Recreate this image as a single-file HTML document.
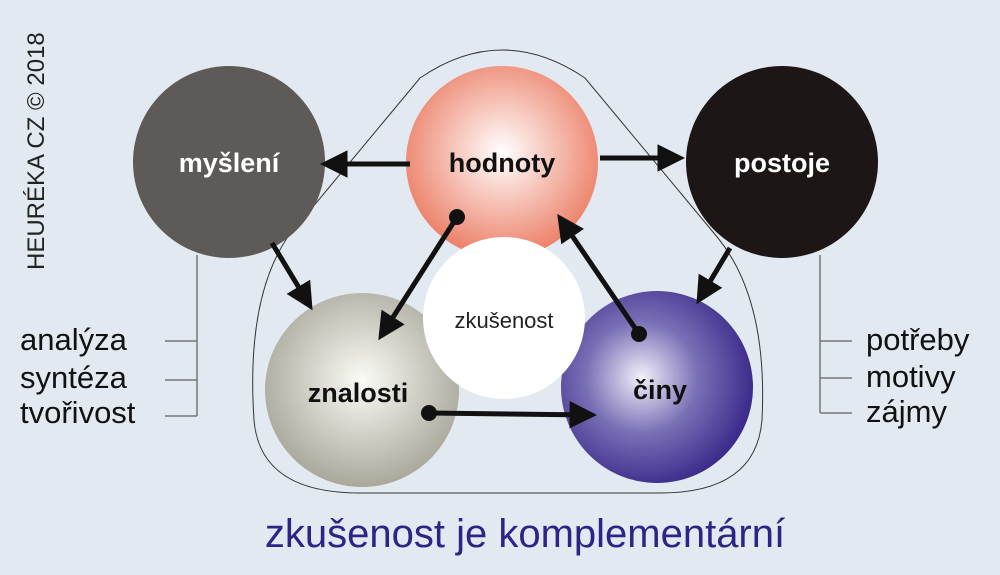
<!DOCTYPE html>
<html><head><meta charset="utf-8"><style>
body{margin:0;width:1000px;height:575px;overflow:hidden;background:#e3e9f0;}
svg{display:block;font-family:"Liberation Sans",Arial,sans-serif}
</style></head><body>
<svg width="1000" height="575" viewBox="0 0 1000 575">
<defs>
<radialGradient id="gr" cx="0.5" cy="0.45" r="0.55"><stop offset="0" stop-color="#fff"/><stop offset="1" stop-color="#ec8068"/></radialGradient>
<radialGradient id="gz" cx="0.5" cy="0.45" r="0.55"><stop offset="0" stop-color="#fbfbf6"/><stop offset="1" stop-color="#a9a89b"/></radialGradient>
<radialGradient id="gc" cx="0.42" cy="0.45" r="0.58"><stop offset="0" stop-color="#f2f0fa"/><stop offset="0.5" stop-color="#7a70b6"/><stop offset="1" stop-color="#3d2c8c"/></radialGradient>
<marker id="ah" markerWidth="5.5" markerHeight="5.5" refX="4.5" refY="2.75" orient="auto" markerUnits="strokeWidth"><path d="M0,0 L5.5,2.75 L0,5.5 z" fill="#111"/></marker>
</defs>
<text transform="translate(44,270) rotate(-90)" font-size="24" fill="#222">HEURÉKA CZ © 2018</text>
<g stroke="#777" stroke-width="1.5" fill="none">
<path d="M197,255 V416 M165,341 H197 M165,380 H197 M165,416 H197"/>
<path d="M820,255 V413 M820,341 H852 M820,378 H852 M820,413 H852"/>
</g>
<path d="M420,78 Q502,22 585,78 L718,238 Q768,300 762,420 Q756,493 660,493 L360,493 Q260,493 254,420 Q246,300 287,238 Z" fill="none" stroke="#333" stroke-width="1"/>
<circle cx="229" cy="162" r="96" fill="#5d5a58"/>
<circle cx="782" cy="162" r="96" fill="#1c1616"/>
<circle cx="502" cy="162" r="96" fill="url(#gr)"/>
<circle cx="362" cy="390" r="97" fill="url(#gz)"/>
<circle cx="657" cy="387" r="96" fill="url(#gc)"/>
<circle cx="504" cy="318" r="81" fill="#fff"/>
<g stroke="#111" stroke-width="5" fill="none" marker-end="url(#ah)">
<line x1="410" y1="164" x2="325" y2="164"/>
<line x1="600" y1="158" x2="680" y2="158"/>
<line x1="272" y1="243" x2="310" y2="306"/>
<line x1="730" y1="248" x2="699" y2="300"/>
<line x1="457" y1="217" x2="381" y2="336"/>
<line x1="639" y1="334" x2="560" y2="218"/>
<line x1="429" y1="413" x2="592" y2="415"/>
</g>
<g fill="#111"><circle cx="457" cy="217" r="8"/><circle cx="639" cy="334" r="8"/><circle cx="429" cy="413" r="8"/></g>
<g font-weight="bold" font-size="27" text-anchor="middle">
<text x="229" y="172" fill="#fff">myšlení</text>
<text x="782" y="172" fill="#fff">postoje</text>
<text x="502" y="172" fill="#111">hodnoty</text>
<text x="358" y="402" fill="#111">znalosti</text>
<text x="660" y="399" fill="#111">činy</text>
</g>
<text x="504" y="328" font-size="22" text-anchor="middle" fill="#222">zkušenost</text>
<g font-size="31" fill="#111">
<text x="20" y="350">analýza</text><text x="20" y="388">syntéza</text><text x="20" y="423">tvořivost</text>
<text x="866" y="350">potřeby</text><text x="866" y="387">motivy</text><text x="866" y="422">zájmy</text>
</g>
<text x="525" y="547" font-size="40" text-anchor="middle" fill="#2b2585">zkušenost je komplementární</text>
</svg>
</body></html>
